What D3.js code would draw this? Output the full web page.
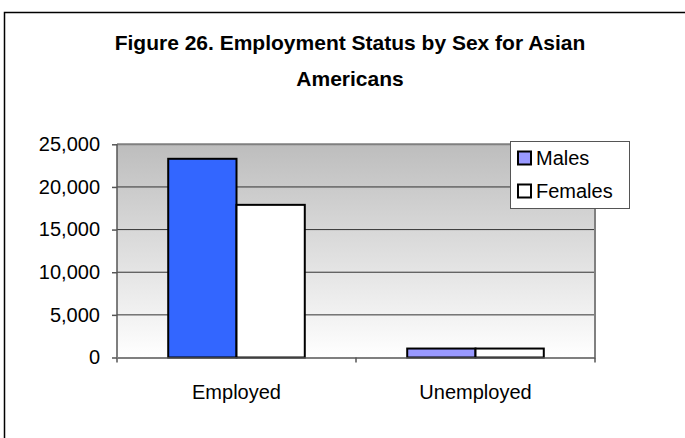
<!DOCTYPE html>
<html>
<head>
<meta charset="utf-8">
<script src="https://cdn.jsdelivr.net/npm/d3@7"></script>
<style>
  html, body { margin: 0; padding: 0; background: #fff; }
  svg { display: block; font-family: "Liberation Sans", Arial, sans-serif; }
</style>
</head>
<body>
<svg id="chart" width="685" height="438"></svg>
<script>
const categories = ["Employed", "Unemployed"];
const seriesNames = ["Males", "Females"];
const males = [23300, 1050];
const females = [17900, 1050];
const yTicks = [0, 5000, 10000, 15000, 20000, 25000];
const titleLines = ["Figure 26. Employment Status by Sex for Asian", "Americans"];

const svg = d3.select("#chart");
const plot = { left: 117, right: 595, top: 144.3, bottom: 357.5 };

// outer frame (extends past the right/bottom edges like the reference)
svg.append("rect").attr("x", 4.5).attr("y", 12.5).attr("width", 760).attr("height", 500)
  .attr("fill", "#fff").attr("stroke", "#000").attr("stroke-width", 1.5);

// title
svg.append("g").selectAll("text").data(titleLines).join("text")
  .attr("x", 350).attr("y", (d, i) => 50 + i * 36)
  .attr("text-anchor", "middle").attr("font-weight", "bold").attr("font-size", 21)
  .attr("fill", "#000").text(d => d);

// gradient background
const defs = svg.append("defs");
const grad = defs.append("linearGradient").attr("id", "bg").attr("x1", 0).attr("y1", 0).attr("x2", 0).attr("y2", 1);
grad.append("stop").attr("offset", "0%").attr("stop-color", "#bdbdbd");
grad.append("stop").attr("offset", "100%").attr("stop-color", "#ffffff");

const x0 = d3.scaleBand().domain(categories).range([plot.left, plot.right]).paddingInner(0).paddingOuter(0);
const x1 = d3.scaleBand().domain(seriesNames).range([0, x0.bandwidth()]).paddingInner(0).paddingOuter(0.75);
const y = d3.scaleLinear().domain([0, 25000]).range([plot.bottom, plot.top]);

svg.append("rect").attr("x", plot.left).attr("y", plot.top)
  .attr("width", plot.right - plot.left).attr("height", plot.bottom - plot.top)
  .attr("fill", "url(#bg)");

// gridlines
svg.append("g").selectAll("line").data(yTicks.filter(d => d > 0 && d < 25000)).join("line")
  .attr("x1", plot.left).attr("x2", plot.right)
  .attr("y1", d => y(d)).attr("y2", d => y(d))
  .attr("stroke", "#333").attr("stroke-width", 1);

// plot border top & right (gray)
svg.append("path")
  .attr("d", `M${plot.left},${plot.top}H${plot.right}V${plot.bottom}`)
  .attr("fill", "none").attr("stroke", "#808080").attr("stroke-width", 2);

// bars
const data = categories.map((c, i) => ({ cat: c, values: [
  { s: "Males", v: males[i] }, { s: "Females", v: females[i] }] }));
const maleFill = { "Employed": "#3366ff", "Unemployed": "#9999ff" };
const g = svg.append("g").selectAll("g").data(data).join("g")
  .attr("transform", d => `translate(${x0(d.cat)},0)`);
g.selectAll("rect").data(d => d.values.map(v => ({ ...v, cat: d.cat }))).join("rect")
  .attr("x", d => x1(d.s)).attr("width", x1.bandwidth())
  .attr("y", d => y(d.v)).attr("height", d => y(0) - y(d.v))
  .attr("fill", d => d.s === "Males" ? maleFill[d.cat] : "#ffffff")
  .attr("stroke", "#000").attr("stroke-width", 2);

// y axis
const yAxis = d3.axisLeft(y).tickValues(yTicks).tickFormat(d3.format(",")).tickSize(5).tickPadding(12);
const ya = svg.append("g").attr("transform", `translate(${plot.left},0)`).call(yAxis);
ya.select(".domain").attr("stroke", "#555").attr("stroke-width", 1.5).attr("d", `M0,${plot.top}V${plot.bottom}`);
ya.selectAll(".tick line").attr("stroke", "#555").attr("stroke-width", 1.5);
ya.selectAll(".tick text").attr("font-size", 20).attr("fill", "#000")
  .attr("font-family", "'Liberation Sans', Arial, sans-serif");

// x axis
const xAxis = d3.axisBottom(x0).tickSize(0).tickPadding(20);
const xa = svg.append("g").attr("transform", `translate(0,${plot.bottom})`).call(xAxis);
xa.select(".domain").attr("stroke", "#555").attr("stroke-width", 1.5);
xa.selectAll(".tick text").attr("font-size", 20).attr("fill", "#000")
  .attr("font-family", "'Liberation Sans', Arial, sans-serif").attr("dy", "1.05em");
// category boundary ticks
const bounds = categories.map(c => x0(c)).concat([plot.right]);
svg.append("g").selectAll("line").data(bounds).join("line")
  .attr("x1", d => d).attr("x2", d => d).attr("y1", plot.bottom).attr("y2", plot.bottom + 5)
  .attr("stroke", "#555").attr("stroke-width", 1.5);

// legend
const lg = svg.append("g").attr("transform", "translate(510,141)");
lg.append("rect").attr("x", 0.5).attr("y", 0.5).attr("width", 119).attr("height", 67)
  .attr("fill", "#fff").attr("stroke", "#555").attr("stroke-width", 1);
const legendFill = ["#9999ff", "#ffffff"];
const li = lg.selectAll("g.item").data(seriesNames).join("g").attr("class", "item")
  .attr("transform", (d, i) => `translate(0,${i * 33})`);
li.append("rect").attr("x", 8).attr("y", 10.5).attr("width", 13).attr("height", 13)
  .attr("fill", (d, i) => legendFill[i]).attr("stroke", "#000").attr("stroke-width", 2);
li.append("text").attr("x", 26).attr("y", 23.5).attr("font-size", 20).attr("fill", "#000").text(d => d);
</script>
</body>
</html>
